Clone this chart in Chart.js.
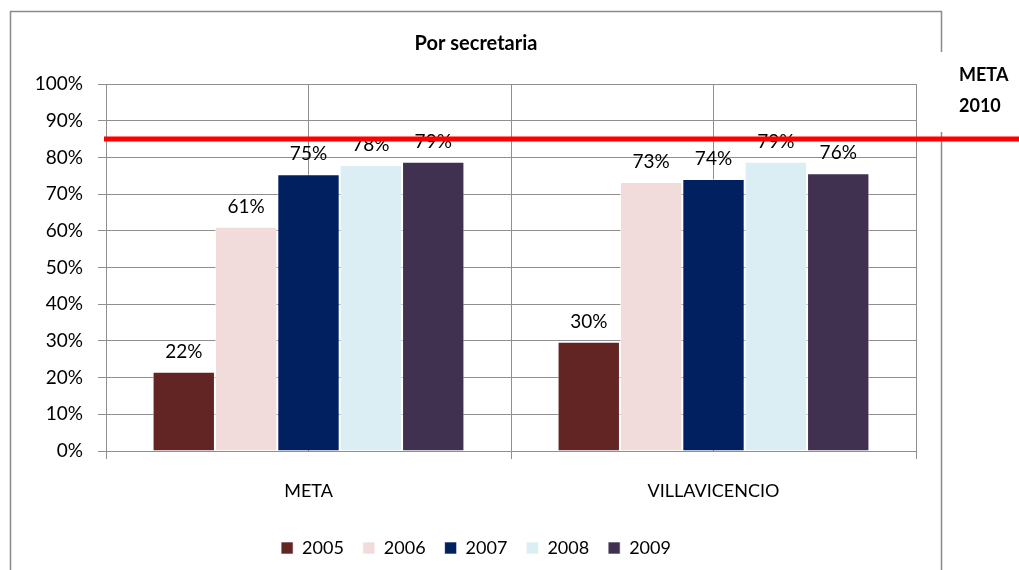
<!DOCTYPE html>
<html>
<head>
<meta charset="utf-8">
<script src="https://cdn.jsdelivr.net/npm/chart.js@4.4.1/dist/chart.umd.min.js"></script>
<style>
  html, body { margin: 0; padding: 0; background: #fff; overflow: hidden; }
  #wrap { width: 1019px; height: 570px; }
</style>
</head>
<body>
<div id="wrap"><canvas id="chart"></canvas></div>
<script>
// Chart data
const categories = ['META', 'VILLAVICENCIO'];
const years = ['2005', '2006', '2007', '2008', '2009'];
const values2005 = [21.6, 29.8];
const values2006 = [61.1, 73.3];
const values2007 = [75.4, 74.1];
const values2008 = [77.9, 78.8];
const values2009 = [78.8, 75.7];
const yTicks = [0, 10, 20, 30, 40, 50, 60, 70, 80, 90, 100];
const halfTicks = [0, 1, 2, 3, 4];
const goal = 85;
const goalLabel = ['META', '2010'];

const colors = ['#632523', '#F2DCDB', '#002060', '#DBEEF3', '#403151'];
const seriesValues = [values2005, values2006, values2007, values2008, values2009];
const gridColor = '#8f8f8f';
const font = 'Lato';

// Frame, goal line, value labels
const decorations = {
    id: 'decorations',
    beforeDraw(chart) {
        const ctx = chart.ctx;
        ctx.save();
        ctx.strokeStyle = '#8a8a8a';
        ctx.lineWidth = 1.5;
        ctx.strokeRect(10.5, 11.5, 931, 600);
        // white label box over the frame
        ctx.fillStyle = '#fff';
        ctx.fillRect(934, 52, 85, 80);
        ctx.restore();
    },
    afterDatasetsDraw(chart) {
        const ctx = chart.ctx;
        ctx.save();
        ctx.font = '19px ' + font;
        ctx.fillStyle = '#000';
        ctx.textAlign = 'center';
        ctx.textBaseline = 'alphabetic';
        chart.data.datasets.forEach((ds, i) => {
            chart.getDatasetMeta(i).data.forEach((bar, j) => {
                ctx.fillText(Math.round(ds.data[j]) + '%', bar.x, bar.y - 14);
            });
        });

        // goal line
        const y = chart.scales.y.getPixelForValue(goal);
        ctx.strokeStyle = '#ff0000';
        ctx.lineWidth = 5;
        ctx.beginPath();
        ctx.moveTo(chart.chartArea.left - 2, y);
        ctx.lineTo(chart.width, y);
        ctx.stroke();

        ctx.font = 'bold 18px ' + font;
        ctx.textAlign = 'left';
        ctx.textBaseline = 'middle';
        ctx.fillText(goalLabel[0], 959, 75);
        ctx.fillText(goalLabel[1], 959, 106);
        ctx.restore();
    }
};

new Chart(document.getElementById('chart'), {
    type: 'bar',
    data: {
        labels: categories,
        datasets: years.map((yr, i) => ({
            label: yr,
            data: seriesValues[i],
            backgroundColor: colors[i],
            borderColor: 'rgba(255,255,255,0.6)',
            borderWidth: 1,
            categoryPercentage: 0.77,
            barPercentage: 1.0
        }))
    },
    options: {
        responsive: true,
        maintainAspectRatio: false,
        animation: false,
        layout: { padding: { top: 20, left: 36, right: 103, bottom: 3 } },
        plugins: {
            title: {
                display: true,
                text: 'Por secretaria',
                color: '#000',
                font: { family: font, size: 20, weight: 'bold' },
                padding: { top: 12, bottom: 28 }
            },
            legend: {
                position: 'bottom',
                labels: {
                    color: '#000',
                    font: { family: font, size: 18 },
                    boxWidth: 12,
                    boxHeight: 12,
                    padding: 19
                }
            },
            tooltip: { enabled: false }
        },
        scales: {
            x: {
                type: 'category',
                offset: true,
                grid: { offset: true, drawOnChartArea: false, drawTicks: true, tickLength: 8, color: gridColor },
                border: { display: true, color: gridColor },
                ticks: { color: '#000', font: { family: font, size: 18 }, padding: 21 },
                afterFit(scale) { scale.height = 69; }
            },
            xg: {
                type: 'linear',
                position: 'top',
                offset: false,
                min: 0,
                max: 4,
                afterBuildTicks(scale) { scale.ticks = halfTicks.map(v => ({ value: v })); },
                ticks: { display: false },
                grid: { offset: false, color: gridColor, drawTicks: false },
                border: { display: false },
                afterFit(scale) { scale.height = 0; }
            },
            y: {
                min: 0,
                max: 100,
                afterBuildTicks(scale) { scale.ticks = yTicks.map(v => ({ value: v })); },
                ticks: {
                    color: '#000',
                    font: { family: font, size: 19 },
                    padding: 15,
                    callback: v => v + '%'
                },
                grid: { color: gridColor, tickLength: 8 },
                border: { color: gridColor },
                afterFit(scale) { scale.width = 70; }
            }
        }
    },
    plugins: [decorations]
});
</script>
</body>
</html>
